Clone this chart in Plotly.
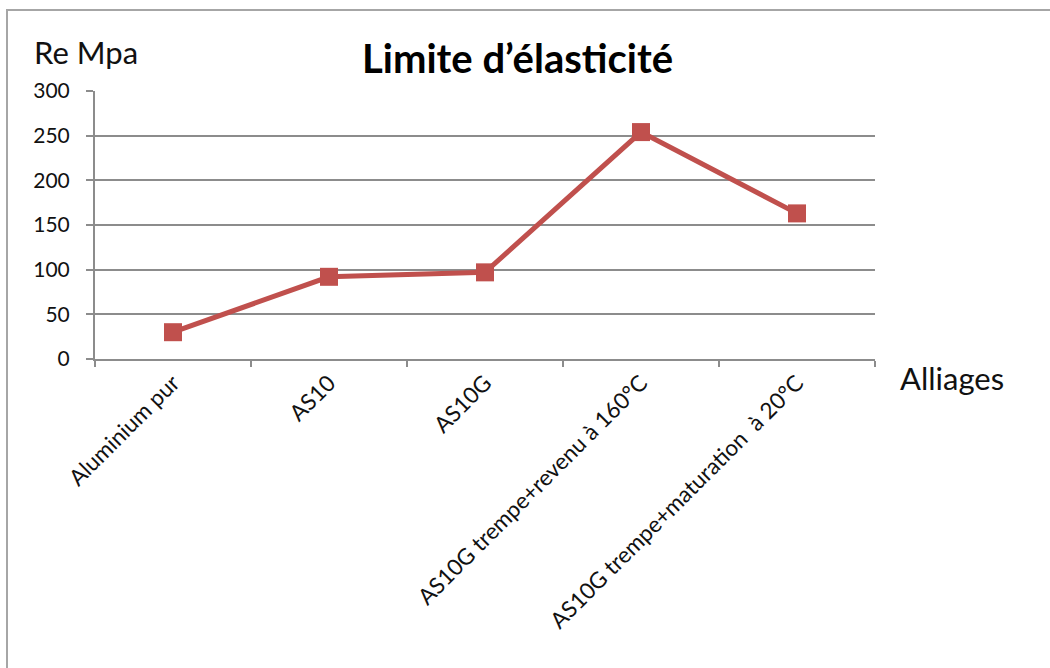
import plotly.graph_objects as go

categories = ["Aluminium pur", "AS10", "AS10G",
              "AS10G trempe+revenu à 160°C", "AS10G trempe+maturation  à 20°C"]
re_mpa = [30, 92, 97, 254, 163]
y_ticks = [0, 50, 100, 150, 200, 250, 300]

FONT = "Lato"
RED = "#C0504D"
GRID = "#8C8C8C"

fig = go.Figure()
fig.add_trace(go.Scatter(
    x=categories, y=re_mpa, mode="lines+markers",
    line=dict(color=RED, width=5),
    marker=dict(symbol="square", size=18, color=RED),
    showlegend=False, cliponaxis=False,
))

W, H = 1050, 668
L, R, T, B = 95, 175, 91, 309
pw, ph = W - L - R, H - T - B

def px_x(p):
    return (p - L) / pw

def px_y(p):
    return (H - B - p) / ph

fig.update_layout(
    width=W, height=H,
    margin=dict(l=L, r=R, t=T, b=B),
    paper_bgcolor="white", plot_bgcolor="white",
    font=dict(family=FONT, color="#000000", size=20),
    xaxis=dict(
        type="category", range=[-0.5, 4.5],
        showgrid=False, showline=True, linecolor=GRID, linewidth=2,
        ticks="outside", tickson="boundaries", ticklen=6, tickcolor=GRID, tickwidth=2,
        tickangle=-45, tickfont=dict(family=FONT, size=22.5, color="#111111"),
        fixedrange=True,
    ),
    yaxis=dict(
        range=[0, 300], tickvals=y_ticks,
        showgrid=True, gridcolor=GRID, gridwidth=2,
        showline=True, linecolor=GRID, linewidth=2,
        ticks="outside", ticklen=7, tickcolor=GRID, tickwidth=2,
        zeroline=False, ticklabelstandoff=12,
        tickfont=dict(family=FONT, size=21, color="#111111"),
        fixedrange=True,
    ),
    shapes=[dict(
        type="rect", xref="paper", yref="paper",
        x0=px_x(7), x1=px_x(1200), y0=px_y(900), y1=px_y(10),
        line=dict(color="#A6A6A6", width=2), fillcolor="rgba(0,0,0,0)",
        layer="below",
    )],
    annotations=[
        dict(text="<b>Limite d’élasticité</b>", xref="paper", yref="paper",
             x=px_x(517), y=px_y(58), xanchor="center", yanchor="middle",
             showarrow=False, font=dict(family=FONT, size=40, color="#000000")),
        dict(text="Re Mpa", xref="paper", yref="paper",
             x=px_x(32), y=px_y(52), xanchor="left", yanchor="middle",
             showarrow=False, font=dict(family=FONT, size=31, color="#111111")),
        dict(text="Alliages", xref="paper", yref="paper",
             x=px_x(898), y=px_y(378), xanchor="left", yanchor="middle",
             showarrow=False, font=dict(family=FONT, size=31, color="#111111")),
    ],
)

fig.write_html("out.html")
